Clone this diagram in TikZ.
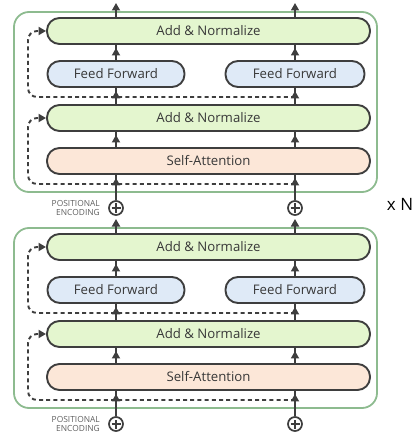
\documentclass[tikz,border=0pt]{standalone}
\usepackage{fontspec}
\setmainfont{Open Sans}
\usetikzlibrary{arrows.meta}
\definecolor{framegreen}{HTML}{8DBB8F}
\definecolor{addfill}{HTML}{E4F6CF}
\definecolor{fffill}{HTML}{DFEAF7}
\definecolor{safill}{HTML}{FCE7D8}
\definecolor{linegray}{HTML}{3E3E3E}
\definecolor{textgray}{HTML}{383838}

\begin{document}
\begin{tikzpicture}[x=1pt,y=-1pt,>={Triangle[length=7.5pt,width=8pt]},
  layer/.style={draw=linegray,line width=1.9pt,rounded corners=12.5pt,minimum height=26pt,inner sep=0pt,text=textgray,font=\fontsize{13.2}{15}\selectfont},
  blockframe/.style={draw=framegreen,line width=1.8pt,rounded corners=15pt,minimum width=363pt,minimum height=180pt,inner sep=0pt},
  flow/.style={draw=linegray,line width=1.7pt},
  skip/.style={draw=linegray,line width=1.9pt,dash pattern=on 4pt off 3.2pt,rounded corners=9pt},
  addpos/.style={draw=linegray,circle,line width=1.7pt,minimum size=14pt,inner sep=0pt},
  posenc/.style={align=right,inner sep=0pt,text=textgray!80,font=\fontsize{8.4}{9.2}\selectfont}]
\useasboundingbox (0,0) rectangle (416,435);

\foreach \b/\oy in {a/0,b/216}{
  % encoder block
  \node[blockframe] (frame-\b) at (195.5,102+\oy) {};
  \node[layer,fill=addfill,minimum width=323pt] (an1-\b) at (208.5,31+\oy) {Add \& Normalize};
  \node[layer,fill=fffill,minimum width=137pt] (ffl-\b) at (116,74+\oy) {Feed Forward};
  \node[layer,fill=fffill,minimum width=139pt] (ffr-\b) at (295,74+\oy) {Feed Forward};
  \node[layer,fill=addfill,minimum width=323pt] (an2-\b) at (208.5,118+\oy) {Add \& Normalize};
  \node[layer,fill=safill,minimum width=323pt] (sa-\b) at (208.5,161+\oy) {Self-Attention};

  \node[addpos] (pl-\b) at (116,208+\oy) {};
  \node[addpos] (pr-\b) at (295,208+\oy) {};
  \draw[flow,line width=1.5pt] ([yshift=-4.5pt]pl-\b.center) -- ([yshift=4.5pt]pl-\b.center) ([xshift=-4.5pt]pl-\b.center) -- ([xshift=4.5pt]pl-\b.center);
  \draw[flow,line width=1.5pt] ([yshift=-4.5pt]pr-\b.center) -- ([yshift=4.5pt]pr-\b.center) ([xshift=-4.5pt]pr-\b.center) -- ([xshift=4.5pt]pr-\b.center);
  \node[posenc,anchor=east] (pe-\b) at (100,208+\oy) {POSITIONAL\\ENCODING};

  \coordinate (jl1-\b) at (116,184+\oy);
  \coordinate (jr1-\b) at (295,184+\oy);
  \coordinate (jl2-\b) at (116,97+\oy);
  \coordinate (jr2-\b) at (295,97+\oy);
  \coordinate (outl-\b) at (116,3+\oy);
  \coordinate (outr-\b) at (295,3+\oy);

  % residual connections
  \draw[skip,->] (jr1-\b) -- (28,184+\oy) -- (28,118+\oy) -- (an2-\b.west);
  \draw[skip,->] (jr2-\b) -- (28,97+\oy) -- (28,31+\oy) -- (an1-\b.west);

  % data flow
  \draw[flow] (pl-\b) -- (sa-\b.south -| pl-\b);
  \draw[flow,->,shorten >=3pt] (pl-\b) -- (sa-\b.south -| pl-\b);
  \draw[flow] (pr-\b) -- (sa-\b.south -| pr-\b);
  \draw[flow,->,shorten >=3pt] (pr-\b) -- (sa-\b.south -| pr-\b);
  \draw[flow] (sa-\b.north -| jl1-\b) -- (an2-\b.south -| jl1-\b);
  \draw[flow,->,shorten >=3pt] (sa-\b.north -| jl1-\b) -- (an2-\b.south -| jl1-\b);
  \draw[flow] (sa-\b.north -| jr1-\b) -- (an2-\b.south -| jr1-\b);
  \draw[flow,->,shorten >=3pt] (sa-\b.north -| jr1-\b) -- (an2-\b.south -| jr1-\b);
  \draw[flow] (an2-\b.north -| jl2-\b) -- (ffl-\b.south);
  \draw[flow,->,shorten >=3pt] (an2-\b.north -| jl2-\b) -- (ffl-\b.south);
  \draw[flow] (an2-\b.north -| jr2-\b) -- (ffr-\b.south);
  \draw[flow,->,shorten >=3pt] (an2-\b.north -| jr2-\b) -- (ffr-\b.south);
  \draw[flow] (ffl-\b.north) -- (an1-\b.south -| ffl-\b.north);
  \draw[flow,->,shorten >=3pt] (ffl-\b.north) -- (an1-\b.south -| ffl-\b.north);
  \draw[flow] (ffr-\b.north) -- (an1-\b.south -| ffr-\b.north);
  \draw[flow,->,shorten >=3pt] (ffr-\b.north) -- (an1-\b.south -| ffr-\b.north);
  \draw[flow,->] (an1-\b.north -| outl-\b) -- (outl-\b);
  \draw[flow,->] (an1-\b.north -| outr-\b) -- (outr-\b);
}

\node[font=\fontsize{17}{18}\selectfont,inner sep=0pt] (repeat) at (400,204) {x N};
\end{tikzpicture}
\end{document}
